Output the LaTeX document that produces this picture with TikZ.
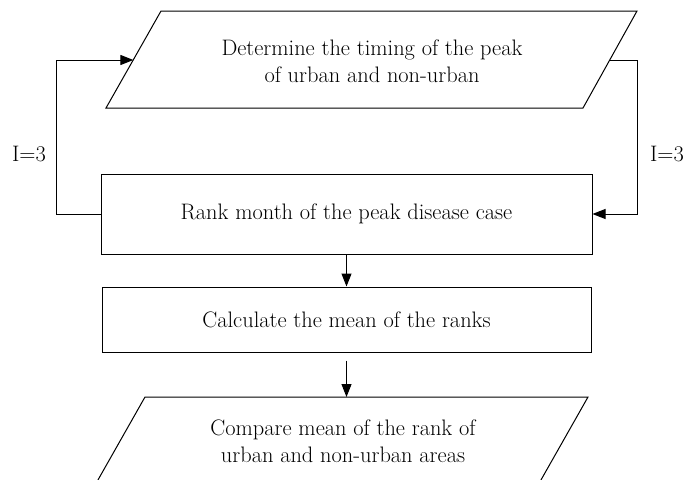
\documentclass[tikz,border=0pt]{standalone}
\usetikzlibrary{arrows.meta}
\tikzset{
  box/.style={draw, line width=1pt, minimum width=491pt, minimum height=80pt, inner sep=0pt},
  txt/.style={align=center, font=\fontsize{22.4}{27}\selectfont},
  arr/.style={line width=1pt, -{Triangle[length=13pt,width=10pt]}}
}
\begin{document}
\begin{tikzpicture}[x=1pt, y=-1pt]
\clip (0,0) rectangle (684,479);
% input / output shapes
\draw[line width=1pt] (161,11) -- (637,11) -- (583,108) -- (106,108) -- cycle;
\draw[line width=1pt] (145,397) -- (588,397) -- (533,494) -- (90,494) -- cycle;
\node[txt] (det) at (372,61) {Determine the timing of the peak\\of urban and non-urban};
\node[txt] (cmp) at (343,441) {Compare mean of the rank of\\urban and non-urban areas};
\coordinate (detL) at (133.4,60);
\coordinate (detR) at (609.7,60);
\coordinate (cmpT) at (346.5,397);
% process boxes
\node[box, txt] (rank) at (346.5,214) {Rank month of the peak disease case};
\node[box, txt, minimum width=489pt, minimum height=65pt] (calc) at (346.5,319.5) {Calculate the mean of the ranks};
% connectors
\draw[arr] (rank.west) -- ++(-44,0) |- (detL);
\draw[arr] (detR) -- ++(27.3,0) |- (rank.east);
\draw[arr] (rank.south) -- (calc.north);
\draw[arr, shorten <=8pt] (calc.south) -- (cmpT);
\node[txt] (lblL) at (29,154) {I=3};
\node[txt] (lblR) at (667,154) {I=3};
\end{tikzpicture}
\end{document}
